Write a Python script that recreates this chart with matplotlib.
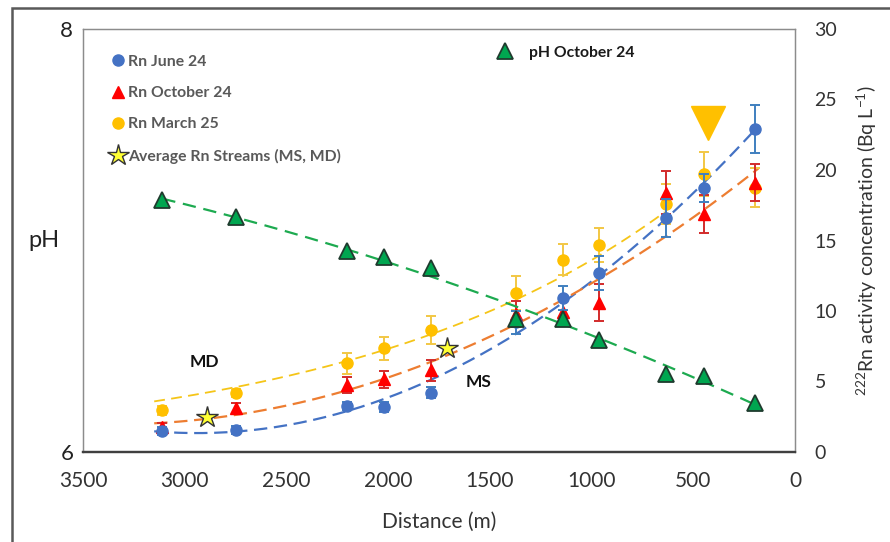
import numpy as np
import matplotlib.pyplot as plt
from matplotlib.patches import Rectangle
from matplotlib.lines import Line2D

plt.rcParams['font.family'] = ['Lato', 'DejaVu Sans']
plt.rcParams['mathtext.fontset'] = 'custom'
plt.rcParams['mathtext.rm'] = 'Lato'

# distances along the stream (m)
dist = [3110, 2750, 2200, 2020, 1790, 1370, 1140, 965, 635, 445, 195]

# pH October 24 (left axis)
ph_oct = [7.19, 7.11, 6.95, 6.92, 6.87, 6.63, 6.63, 6.53, 6.37, 6.36, 6.23]

# Rn activity (Bq/L) (right axis)
rn_jun = [1.5, 1.55, 3.25, 3.2, 4.2, 9.2, 10.9, 12.7, 16.6, 18.7, 22.9]
rn_jun_err = [0.3, 0.3, 0.3, 0.35, 0.4, 0.8, 0.85, 1.2, 1.35, 1.0, 1.7]
rn_oct = [1.75, 3.1, 4.75, 5.15, 5.8, 9.8, 9.9, 10.6, 18.4, 16.9, 19.1]
rn_oct_err = [0.3, 0.35, 0.55, 0.6, 0.75, 0.9, 0.9, 1.3, 1.55, 1.35, 1.3]
rn_mar = [2.95, 4.2, 6.3, 7.35, 8.65, 11.3, 13.65, 14.7, 17.6, 19.7, 18.75]
rn_mar_err = [0.3, 0.3, 0.75, 0.8, 1.0, 1.2, 1.1, 1.2, 1.4, 1.55, 1.4]

# average Rn in streams
stream_dist = [2890, 1710]
stream_rn = [2.5, 7.35]
stream_lbl = ['MD', 'MS']
stream_lbl_pos = [(2905, 6.4), (1555, 4.95)]

# marker for the source point
arrow_dist = [430]
arrow_rn = [23.3]

fig = plt.figure(figsize=(8.9, 5.42), dpi=100)
ax = fig.add_axes([83/890, 90/542, 712/890, 423/542])
ax2 = ax.twinx()
ax.set_zorder(ax2.get_zorder() + 1)
ax.patch.set_visible(False)


# trend lines
def trend(axis, x, y, x0, x1, color, lw, dashes, kind='poly'):
    x = np.array(x, float)
    y = np.array(y, float)
    xs = np.linspace(x0, x1, 200)
    if kind == 'exp':
        c = np.polyfit(x, np.log(y), 1)
        ys = np.exp(np.polyval(c, xs))
    else:
        c = np.polyfit(x, y, 2)
        ys = np.polyval(c, xs)
    axis.plot(xs, ys, color=color, lw=lw, dashes=dashes, zorder=1)


trend(ax2, dist, rn_jun, 3150, 180, '#4472C4', 1.6, (6, 3))
trend(ax2, dist, rn_oct, 3150, 180, '#ED7D31', 1.6, (6, 3))
trend(ax2, dist[1:], rn_mar[1:], 3150, 640, '#F5C518', 1.3, (6, 3.5), kind='exp')
trend(ax, dist, ph_oct, 3110, 175, '#1DAA50', 1.6, (6, 3.5))

eb = dict(capsize=3.5, elinewidth=1.4, capthick=1.4, ls='none')
ax2.errorbar(dist, rn_mar, yerr=rn_mar_err, fmt='o', color='#FFC000', ecolor='#F2C744',
             ms=8, mec='#FFC000', zorder=3, **eb)
ax2.errorbar(dist, rn_oct, yerr=rn_oct_err, fmt='^', color='#FF0000', ecolor='#D22B2B',
             ms=8.5, mec='#FF0000', zorder=4, **eb)
ax2.errorbar(dist, rn_jun, yerr=rn_jun_err, fmt='o', color='#4472C4', ecolor='#3F7FBF',
             ms=8, mec='#4472C4', zorder=5, **eb)
ax2.plot(stream_dist, stream_rn, ls='none', marker='*', ms=16, mfc='#FFFF33',
         mec='#333333', mew=1, zorder=6)
ax2.plot(arrow_dist, arrow_rn, ls='none', marker='v', ms=24, color='#FFC000', zorder=6)

for lbl, (px, py) in zip(stream_lbl, stream_lbl_pos):
    ax2.text(px, py, lbl, fontsize=12.5, fontweight='bold', color='#111111',
             ha='center', va='center')

ax.plot(dist, ph_oct, ls='none', marker='^', ms=11.5, mfc='#00A650', mec='#1F3B2E',
        mew=1.3, zorder=5)

ax.set_xlim(3500, 0)
ax.set_ylim(6, 8)
ax.set_yticks([6, 8])
ax2.set_ylim(0, 30)
ax2.set_yticks(range(0, 31, 5))
ax.set_xticks(range(3500, -1, -500))

ax.tick_params(axis='both', length=0)
ax.tick_params(axis='y', labelsize=16, pad=7, colors='#222222')
ax.tick_params(axis='x', labelsize=15, pad=14, colors='#333333')
ax2.tick_params(axis='y', length=0, labelsize=14, pad=14, colors='#333333')

ax.set_xlabel('Distance (m)', fontsize=15, color='#333333', labelpad=15)
ax.set_ylabel('pH', fontsize=17, color='#222222', rotation=0, labelpad=12, va='center')
ax2.set_ylabel(r'$^{222}$Rn activity concentration (Bq L$^{-1}$)', fontsize=14,
               color='#333333', labelpad=12)

for a in (ax, ax2):
    for s in ('left', 'right', 'top'):
        a.spines[s].set_color('#8C8C8C')
        a.spines[s].set_linewidth(0.9)
    a.spines['bottom'].set_color('#404040')
    a.spines['bottom'].set_linewidth(1.6)

# legends
h_rn = [
    Line2D([], [], ls='none', marker='o', ms=8, color='#4472C4'),
    Line2D([], [], ls='none', marker='^', ms=8.5, color='#FF0000'),
    Line2D([], [], ls='none', marker='o', ms=8, color='#FFC000'),
    Line2D([], [], ls='none', marker='*', ms=16, mfc='#FFFF33', mec='#333333', mew=1),
]
lab_rn = ['Rn June 24', 'Rn October 24', 'Rn March 25', 'Average Rn Streams (MS, MD)']
leg = ax2.legend(h_rn, lab_rn, loc='upper left', bbox_to_anchor=(0.031, 0.954),
                 frameon=False, fontsize=11.3, labelspacing=1.1, handlelength=0.9,
                 handletextpad=0.19, borderaxespad=0)
for t in leg.get_texts():
    t.set_fontweight('bold')
    t.set_color('#595959')

h_ph = [Line2D([], [], ls='none', marker='^', ms=11.5, mfc='#00A650', mec='#1F3B2E', mew=1.3)]
leg2 = ax.legend(h_ph, ['pH October 24'], loc='upper left', bbox_to_anchor=(0.571, 0.975),
                 frameon=False, fontsize=11.3, handlelength=1.2, handletextpad=0.93,
                 borderaxespad=0)
for t in leg2.get_texts():
    t.set_fontweight('bold')
    t.set_color('#1a1a1a')

# outer chart border
fig.patches.append(Rectangle((12/890, -0.1), 1.2, 1.1 - 8/542, transform=fig.transFigure,
                             fill=False, edgecolor='#595959', lw=1.8))

fig.savefig('out.png', dpi=100)
